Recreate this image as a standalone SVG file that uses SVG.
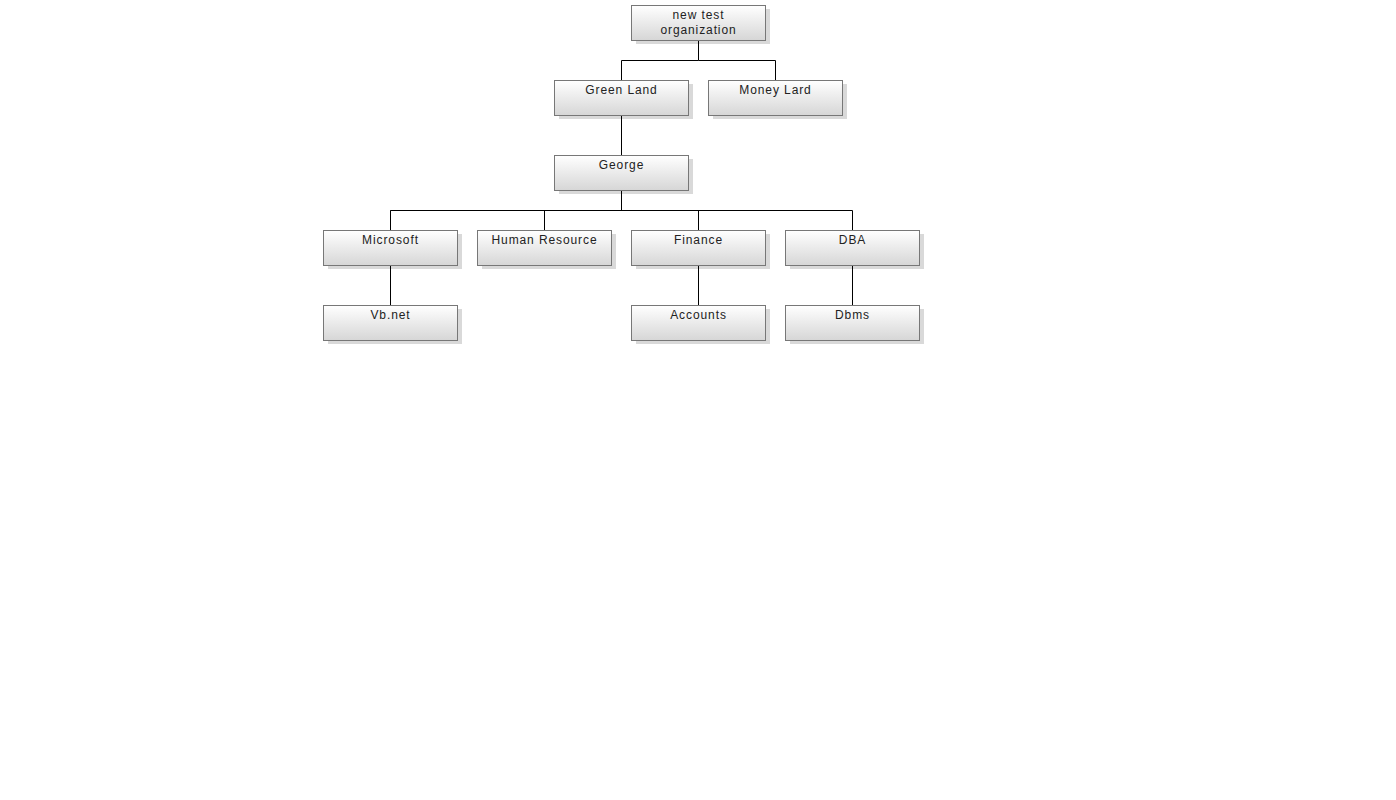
<svg xmlns="http://www.w3.org/2000/svg" width="1396" height="800" viewBox="0 0 1396 800">
<defs>
<linearGradient id="g" x1="0" y1="0" x2="0" y2="1">
<stop offset="0" stop-color="#ffffff"/>
<stop offset="1" stop-color="#d6d6d6"/>
</linearGradient>
<style>
.sh{fill:#d9d9d9}
.bx{fill:url(#g);stroke:#777;stroke-width:1}
.t{font-family:"Liberation Sans",Arial,sans-serif;font-size:12px;letter-spacing:0.9px;fill:#222;text-anchor:middle}
.c{fill:none;stroke:#000;stroke-width:1}
</style>
</defs>
<rect width="1396" height="800" fill="#fff"/>
<g id="n-root"><rect class="sh" x="636" y="9" width="134" height="35"/><rect class="bx" x="631.5" y="5.5" width="134" height="35"/><text class="t" x="698.5" y="19">new test</text><text class="t" x="698.5" y="34">organization</text></g>
<g id="n-greenland"><rect class="sh" x="559" y="84" width="134" height="35"/><rect class="bx" x="554.5" y="80.5" width="134" height="35"/><text class="t" x="621.5" y="94">Green Land</text></g>
<g id="n-moneylard"><rect class="sh" x="713" y="84" width="134" height="35"/><rect class="bx" x="708.5" y="80.5" width="134" height="35"/><text class="t" x="775.5" y="94">Money Lard</text></g>
<g id="n-george"><rect class="sh" x="559" y="159" width="134" height="35"/><rect class="bx" x="554.5" y="155.5" width="134" height="35"/><text class="t" x="621.5" y="169">George</text></g>
<g id="n-microsoft"><rect class="sh" x="328" y="234" width="134" height="35"/><rect class="bx" x="323.5" y="230.5" width="134" height="35"/><text class="t" x="390.5" y="244">Microsoft</text></g>
<g id="n-hr"><rect class="sh" x="482" y="234" width="134" height="35"/><rect class="bx" x="477.5" y="230.5" width="134" height="35"/><text class="t" x="544.5" y="244">Human Resource</text></g>
<g id="n-finance"><rect class="sh" x="636" y="234" width="134" height="35"/><rect class="bx" x="631.5" y="230.5" width="134" height="35"/><text class="t" x="698.5" y="244">Finance</text></g>
<g id="n-dba"><rect class="sh" x="790" y="234" width="134" height="35"/><rect class="bx" x="785.5" y="230.5" width="134" height="35"/><text class="t" x="852.5" y="244">DBA</text></g>
<g id="n-vbnet"><rect class="sh" x="328" y="309" width="134" height="35"/><rect class="bx" x="323.5" y="305.5" width="134" height="35"/><text class="t" x="390.5" y="319">Vb.net</text></g>
<g id="n-accounts"><rect class="sh" x="636" y="309" width="134" height="35"/><rect class="bx" x="631.5" y="305.5" width="134" height="35"/><text class="t" x="698.5" y="319">Accounts</text></g>
<g id="n-dbms"><rect class="sh" x="790" y="309" width="134" height="35"/><rect class="bx" x="785.5" y="305.5" width="134" height="35"/><text class="t" x="852.5" y="319">Dbms</text></g>
<g id="connectors">
<path class="c" d="M698.5 41V60.5H621.5V80M698.5 60.5H775.5V80"/>
<path class="c" d="M621.5 116V155"/>
<path class="c" d="M621.5 191V210.5H390.5V230M544.5 210.5V230M698.5 210.5V230M852.5 210.5V230M390.5 210.5H852.5"/>
<path class="c" d="M390.5 266V305M698.5 266V305M852.5 266V305"/>
</g>
</svg>
